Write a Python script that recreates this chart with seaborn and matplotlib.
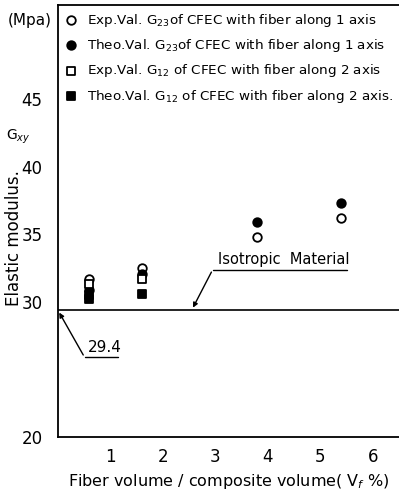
import matplotlib
matplotlib.use("Agg")
import matplotlib.pyplot as plt
import seaborn as sns
import pandas as pd

sns.set_style("white")
plt.rcParams['font.family'] = ['Liberation Sans Narrow', 'DejaVu Sans']
plt.rcParams['mathtext.fontset'] = 'custom'
plt.rcParams['mathtext.rm'] = 'Liberation Sans Narrow'
for k in ['text.color', 'axes.labelcolor', 'xtick.color', 'ytick.color']:
    plt.rcParams[k] = 'black'

# Data
exp23_x = [0.6, 1.6, 3.8, 5.4]
exp23_y = [31.7, 32.5, 34.8, 36.2]
theo23_x = [0.6, 1.6, 3.8, 5.4]
theo23_y = [30.9, 32.1, 35.9, 37.3]
exp12_x = [0.6, 1.6]
exp12_y = [31.3, 31.7]
theo12_x = [0.6, 0.6, 1.6]
theo12_y = [30.5, 30.2, 30.6]
iso_value = 29.4
yticks = [20, 30, 35, 40, 45]
xticks = [1, 2, 3, 4, 5, 6]

labels = [
    "Exp.Val. G$_{23}$of CFEC with fiber along 1 axis",
    "Theo.Val. G$_{23}$of CFEC with fiber along 1 axis",
    "Exp.Val. G$_{12}$ of CFEC with fiber along 2 axis",
    "Theo.Val. G$_{12}$ of CFEC with fiber along 2 axis.",
]

fig = plt.figure(figsize=(3.99, 4.90), dpi=100)
ax = fig.add_axes([0.145, 0.108, 0.855, 0.882])

series = [
    (exp23_x, exp23_y, 'o', 'white', labels[0]),
    (theo23_x, theo23_y, 'o', 'black', labels[1]),
    (exp12_x, exp12_y, 's', 'white', labels[2]),
    (theo12_x, theo12_y, 's', 'black', labels[3]),
]
for xs, ys, m, fc, lab in series:
    df = pd.DataFrame({'x': xs, 'y': ys})
    sns.scatterplot(data=df, x='x', y='y', marker=m, s=38, color=fc,
                    edgecolor='black', linewidth=1.3, ax=ax, label=lab, zorder=3)

ax.axhline(iso_value, color='black', lw=1.2, zorder=2)

ax.set_xlim(0, 6.5)
ax.set_ylim(20, 52)
ax.set_xticks(xticks)
ax.set_yticks(yticks)
ax.tick_params(axis='both', labelsize=12, length=3, width=1, color='black')
ax.tick_params(axis='x', direction='in', pad=8)
ax.tick_params(axis='y', direction='out', pad=8)
for side in ['left', 'bottom', 'top']:
    ax.spines[side].set_color('black')
    ax.spines[side].set_linewidth(1.3)
ax.spines['right'].set_visible(False)

ax.set_xlabel("Fiber volume / composite volume( V$_f$ %)", fontsize=11.5, labelpad=4)
ax.set_ylabel("")
fig.text(0.035, 0.515, "Elastic modulus.", rotation=90, fontsize=12, ha='center', va='center')
fig.text(0.045, 0.72, "G$_{xy}$", fontsize=10, ha='center', va='center')
fig.text(0.075, 0.959, "(Mpa)", fontsize=11, ha='center', va='center')

# Annotations
ax.annotate("", xy=(2.55, iso_value), xytext=(2.95, 32.4),
            arrowprops=dict(arrowstyle='-|>', color='black', lw=1, mutation_scale=7))
ax.plot([2.95, 5.5], [32.4, 32.4], color='black', lw=1)
ax.text(3.05, 32.6, "Isotropic  Material", fontsize=10.5, ha='left', va='bottom')

ax.annotate("", xy=(0.0, iso_value), xytext=(0.51, 25.9),
            arrowprops=dict(arrowstyle='-|>', color='black', lw=1, mutation_scale=7))
ax.plot([0.51, 1.15], [25.9, 25.9], color='black', lw=1)
ax.text(0.57, 26.1, "29.4", fontsize=11, ha='left', va='bottom')

leg = ax.legend(loc='upper left', bbox_to_anchor=(0.0, 1.0), frameon=False,
                fontsize=9.7, handletextpad=0.7, labelspacing=0.62,
                borderaxespad=0.1, borderpad=0.4, handlelength=1.0)

fig.savefig("out.png", dpi=100)
